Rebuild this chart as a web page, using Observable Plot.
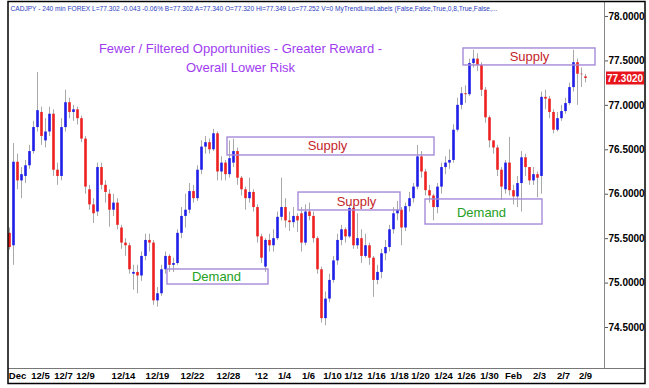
<!DOCTYPE html>
<html><head><meta charset="utf-8">
<script src="https://cdn.jsdelivr.net/npm/d3@7"></script>
<script src="https://cdn.jsdelivr.net/npm/@observablehq/plot@0.6"></script>
<style>body{margin:0;background:#fff} svg{display:block}</style>
</head><body><div id="chart"></div>
<script>
// OHLC bars (CADJPY 240 min)
const opens = [75.56,75.42,76.36,76.15,76.20,76.32,76.48,76.75,76.92,76.60,76.70,76.90,76.27,76.20,76.75,77.03,76.92,76.95,76.85,76.62,
76.05,75.88,75.80,76.30,76.10,76.00,75.82,75.90,75.62,75.45,75.42,75.10,75.12,75.08,75.30,75.48,75.45,74.80,74.88,75.15,
75.30,75.20,75.22,75.56,75.75,75.82,76.03,75.95,76.27,76.53,76.58,76.50,76.68,76.25,76.35,76.22,76.35,76.48,76.18,76.05,
75.95,76.02,75.85,75.52,75.18,75.48,75.42,75.50,75.74,75.85,75.70,75.68,75.75,75.78,75.45,75.80,75.75,75.50,75.15,74.60,
74.82,75.03,75.25,75.48,75.60,75.52,75.84,75.42,75.50,75.30,75.42,75.28,75.03,75.12,75.33,75.40,75.60,75.78,75.82,75.62,
75.86,75.95,76.08,76.42,76.25,76.04,75.98,75.85,76.08,76.30,76.35,76.38,76.72,77.00,77.13,77.12,77.47,77.52,77.45,77.17,
76.86,76.60,76.52,76.27,76.05,76.35,76.04,75.97,76.12,76.41,76.30,76.15,76.22,76.20,77.09,77.07,76.92,76.72,76.85,76.93,
77.02,77.20,77.48,77.35,77.320];
const highs = [75.62,76.57,76.45,76.30,76.38,76.55,76.82,77.37,76.98,76.85,76.98,76.95,76.35,76.85,77.17,77.08,77.00,76.98,76.88,76.65,
76.10,75.95,76.35,76.35,76.15,76.05,76.00,75.95,75.65,75.50,75.45,75.20,75.20,75.35,75.55,75.55,75.48,74.95,75.20,75.35,
75.32,75.28,75.60,75.85,76.00,76.12,76.10,76.32,76.60,76.65,76.62,76.73,76.70,76.42,76.38,76.60,76.62,76.52,76.20,76.08,
76.18,76.05,75.88,75.55,75.50,75.55,75.60,75.80,76.18,75.95,75.80,75.85,75.78,75.85,75.88,75.90,75.80,75.52,75.18,74.90,
75.10,75.30,75.55,75.65,75.62,75.88,75.86,75.78,75.60,75.55,75.45,75.30,75.20,75.38,75.48,75.65,75.85,75.92,75.85,75.90,
76.02,76.12,76.55,76.48,76.28,76.10,76.00,76.12,76.35,76.42,76.50,76.78,77.08,77.20,77.22,77.52,77.62,77.58,77.48,77.20,
76.88,76.60,76.55,76.30,76.38,76.64,76.10,76.20,76.48,76.45,76.30,76.30,76.25,77.15,77.17,77.10,76.95,76.92,77.00,77.08,
77.25,77.62,77.52,77.42,77.349];
const lows = [75.37,75.20,76.05,75.95,76.12,76.28,76.45,76.70,76.55,76.52,76.65,76.20,76.10,76.15,76.70,76.85,76.82,76.78,76.58,76.00,
75.82,75.67,75.75,76.05,75.90,75.63,75.75,75.60,75.38,75.30,75.10,74.92,74.88,75.02,75.25,75.35,74.75,74.73,74.85,75.10,
75.12,75.12,75.20,75.50,75.62,75.78,75.90,75.92,76.22,76.45,76.45,76.48,76.15,76.15,76.15,76.18,76.30,76.10,75.98,75.82,
75.90,75.80,75.45,75.22,75.12,75.35,75.35,75.48,75.70,75.62,75.58,75.62,75.57,75.35,75.42,75.70,75.45,75.10,74.55,74.52,
74.78,75.00,75.20,75.42,75.45,75.50,75.38,75.38,75.22,75.28,75.20,74.84,74.98,75.05,75.25,75.35,75.55,75.70,75.42,75.58,
75.80,75.90,76.05,76.18,75.98,75.90,75.70,75.78,76.00,76.22,76.28,76.35,76.70,76.95,77.02,77.10,77.42,77.38,77.10,76.80,
76.52,76.45,76.20,75.93,76.00,75.98,75.88,75.85,75.80,76.20,76.10,76.10,75.96,76.00,76.95,76.85,76.68,76.70,76.82,76.90,
77.00,77.15,77.00,77.20,77.252];
const closes = [75.40,76.36,76.15,76.22,76.32,76.48,76.75,76.94,76.65,76.70,76.90,76.27,76.20,76.75,77.03,76.92,76.95,76.85,76.62,76.08,
75.88,75.78,76.30,76.10,76.02,75.82,75.90,75.65,75.45,75.42,75.15,75.12,75.08,75.30,75.48,75.45,74.80,74.88,75.15,75.30,
75.20,75.22,75.56,75.75,75.82,76.03,75.95,76.27,76.53,76.58,76.50,76.68,76.25,76.35,76.22,76.40,76.48,76.18,76.05,75.95,
76.02,75.85,75.52,75.28,75.48,75.42,75.50,75.74,75.85,75.70,75.68,75.75,75.70,75.45,75.80,75.75,75.50,75.15,74.60,74.82,
75.03,75.25,75.48,75.60,75.52,75.84,75.42,75.50,75.30,75.42,75.28,75.03,75.12,75.33,75.40,75.60,75.78,75.82,75.62,75.86,
75.95,76.08,76.42,76.25,76.04,75.98,75.85,76.08,76.30,76.35,76.38,76.72,77.00,77.13,77.12,77.47,77.52,77.45,77.17,76.86,
76.60,76.52,76.27,76.08,76.35,76.04,75.97,76.12,76.41,76.30,76.15,76.22,76.18,77.09,77.07,76.92,76.72,76.85,76.93,77.02,
77.20,77.48,77.35,77.345,77.302];

// bottom axis date labels and the bar index where each sits
const dateLabels = ["Dec","12/5","12/7","12/9","12/14","12/19","12/22","12/28","'12","1/4","1/6","1/10","1/12","1/16","1/18","1/20","1/24","1/26","1/30","Feb","2/3","2/7","2/9"];
const dateIdx = [2,7.75,13.5,19,28.5,37,45.75,54.75,63,68.75,74.75,80.75,86,91.75,97.5,102.75,108.5,114.25,120,126,132.5,138.5,144];

// right axis price ticks
const priceTicks = [74.5,75.0,75.5,76.0,76.5,77.0,77.5,78.0];
const lastPrice = 77.302;

// supply / demand zones
const zoneLabels = ["Demand","Supply","Supply","Demand","Supply"];
const zoneX1 = [39.5,54.5,72.25,104,113.5];
const zoneX2 = [64.75,106.25,97.75,133.25,146.5];
const zoneLow = [74.984,76.436,75.817,75.659,77.449];
const zoneHigh = [75.153,76.638,76.019,75.941,77.640];
const zoneTextX = [51.75,79.5,86.75,118,130];
const zoneTextY = [75.07,76.54,75.92,75.79,77.55];

const titleLines = ["Fewer / Filtered Opportunities - Greater Reward -","Overall Lower Risk"];
const titleX = [57.75,57.75];
const titleY = [77.64,77.425];

const header = "CADJPY - 240 min FOREX L=77.302 -0.043 -0.06% B=77.302 A=77.340 O=77.320 Hi=77.349 Lo=77.252 V=0 MyTrendLineLabels (False,False,True,0,8,True,False,...";

const bars = closes.map((c, i) => ({i, o: opens[i], h: highs[i], l: lows[i], c}));
const zones = zoneLabels.map((label, k) => ({label, x1: zoneX1[k], x2: zoneX2[k], y1: zoneLow[k], y2: zoneHigh[k], tx: zoneTextX[k], ty: zoneTextY[k]}));
const titles = titleLines.map((t, k) => ({t, x: titleX[k], y: titleY[k]}));
const labelOf = new Map(dateIdx.map((d, k) => [d, dateLabels[k]]));

const font = "'Liberation Sans', Arial, sans-serif";
const chart = Plot.plot({
  width: 649, height: 388,
  marginLeft: 8, marginRight: 45, marginTop: 3, marginBottom: 20,
  style: {fontFamily: font, background: "#fff", overflow: "visible"},
  x: {domain: [-0.25, 148.75]},
  y: {domain: [74.039, 78.146]},
  marks: [
    Plot.ruleX(bars, {x: "i", y1: "l", y2: "h", stroke: "#a9a9a9", strokeWidth: 1}),
    Plot.ruleX(bars, {x: "i", y1: "o", y2: "c", stroke: d => d.c >= d.o ? "#1e1ee8" : "#ee2020", strokeWidth: 2.6}),
    Plot.rect(zones, {x1: "x1", x2: "x2", y1: "y1", y2: "y2", fill: "none", stroke: "#a58ad8", strokeWidth: 1.4}),
    Plot.text(zones, {x: "tx", y: "ty", text: "label", fontSize: 13, fill: d => d.label === "Supply" ? "#c4262b" : "#24a024"}),
    Plot.text(titles, {x: "x", y: "y", text: "t", fontSize: 13, fill: "#a03cf0"}),
    Plot.text([header], {frameAnchor: "top-left", dx: 2, dy: 3, text: d => d, fontSize: 6.6, fill: "#2a3cc0"}),
    Plot.axisY({anchor: "right", ticks: priceTicks, tickFormat: d3.format(".4f"), tickSize: 3, tickPadding: 1, fontSize: 10, fontWeight: "bold", label: null, stroke: "#555"}),
    Plot.axisX({ticks: dateIdx, tickFormat: d => labelOf.get(d), tickSize: 0, tickPadding: 4, fontSize: 9.5, fontWeight: "bold", label: null})
  ]
});

const svg = d3.select(chart);
const yS = chart.scale("y");
const yp = yS.apply(lastPrice);
// frame lines
svg.append("line").attr("x1", 604.5).attr("x2", 604.5).attr("y1", 2).attr("y2", 368).attr("stroke", "#888").attr("stroke-width", 1);
svg.append("line").attr("x1", 8).attr("x2", 645).attr("y1", 368.5).attr("y2", 368.5).attr("stroke", "#777").attr("stroke-width", 1);
svg.append("rect").attr("x", 8).attr("y", 1.5).attr("width", 637).attr("height", 382).attr("fill", "none").attr("stroke", "#000").attr("stroke-width", 1.5);
// last price tag
svg.append("rect").attr("x", 606).attr("y", yp - 6.5).attr("width", 38).attr("height", 13).attr("fill", "#e8141c");
svg.append("text").attr("x", 625).attr("y", yp).attr("dy", "0.35em").attr("text-anchor", "middle")
  .attr("font-family", font).attr("font-size", 10).attr("font-weight", "bold").attr("fill", "#fff").text(d3.format(".4f")(lastPrice));

document.getElementById("chart").appendChild(chart);
</script>
</body></html>
